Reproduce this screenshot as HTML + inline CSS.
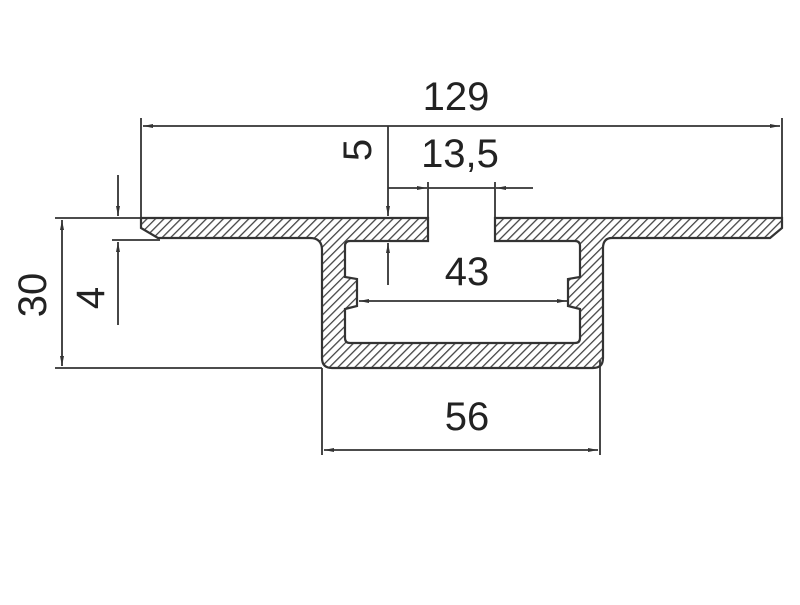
<!DOCTYPE html>
<html><head><style>html,body{margin:0;padding:0;background:#fff}</style></head>
<body>
<svg width="800" height="600" viewBox="0 0 800 600" xmlns="http://www.w3.org/2000/svg" font-family="Liberation Sans, sans-serif">
<defs>
<pattern id="h" patternUnits="userSpaceOnUse" width="6" height="6" patternTransform="rotate(45)">
<rect width="6" height="6" fill="#fff"/>
<line x1="0" y1="0" x2="0" y2="6" stroke="#444" stroke-width="2.6"/>
</pattern>
<marker id="a" markerWidth="10" markerHeight="6" refX="10" refY="3" orient="auto" markerUnits="userSpaceOnUse">
<path d="M0,1 L10,3 L0,5 Z" fill="#333"/>
</marker>
</defs>
<path d="M141,218 L428,218 L428,241 L350,241 Q345,241 345,246 L345,277 L357,279 L357,306 L345,309 L345,338 Q345,343 350,343 L575,343 Q580,343 580,338 L580,309 L568,306 L568,279 L580,277 L580,246 Q580,241 575,241 L495,241 L495,218 L782,218 L782,228 L770,238 L612,238 Q603,238 603,248 L603,358 Q603,368 593,368 L332,368 Q322,368 322,358 L322,250 Q322,238 310,238 L158,238 L141,228 Z" fill="url(#h)" stroke="#333" stroke-width="2.2"/>
<g stroke="#333" stroke-width="1.8" fill="none">
<line x1="141" y1="118" x2="141" y2="218"/>
<line x1="782" y1="118" x2="782" y2="218"/>
<line x1="400" y1="126" x2="143" y2="126" marker-end="url(#a)"/>
<line x1="400" y1="126" x2="780" y2="126" marker-end="url(#a)"/>
<line x1="388" y1="126" x2="388" y2="216" marker-end="url(#a)"/>
<line x1="388" y1="285" x2="388" y2="243" marker-end="url(#a)"/>
<line x1="428" y1="182" x2="428" y2="218"/>
<line x1="495" y1="182" x2="495" y2="218"/>
<line x1="388" y1="188" x2="427" y2="188" marker-end="url(#a)"/>
<line x1="428" y1="188" x2="495" y2="188"/>
<line x1="533" y1="188" x2="496" y2="188" marker-end="url(#a)"/>
<line x1="460" y1="301" x2="359" y2="301" marker-end="url(#a)"/>
<line x1="460" y1="301" x2="567" y2="301" marker-end="url(#a)"/>
<line x1="322" y1="368" x2="322" y2="455"/>
<line x1="600" y1="360" x2="600" y2="455"/>
<line x1="460" y1="450" x2="324" y2="450" marker-end="url(#a)"/>
<line x1="460" y1="450" x2="598" y2="450" marker-end="url(#a)"/>
<line x1="55" y1="218" x2="141" y2="218"/>
<line x1="55" y1="368" x2="322" y2="368"/>
<line x1="62" y1="290" x2="62" y2="220" marker-end="url(#a)"/>
<line x1="62" y1="290" x2="62" y2="366" marker-end="url(#a)"/>
<line x1="112" y1="240" x2="160" y2="240"/>
<line x1="118" y1="175" x2="118" y2="216" marker-end="url(#a)"/>
<line x1="118" y1="325" x2="118" y2="242" marker-end="url(#a)"/>
</g>
<g fill="#222" font-size="40" text-anchor="middle">
<text x="456" y="110">129</text>
<text x="460" y="167">13,5</text>
<text x="467" y="285">43</text>
<text x="467" y="430">56</text>
<text transform="translate(371,150) rotate(-90)">5</text>
<text transform="translate(46,295) rotate(-90)">30</text>
<text transform="translate(104,298) rotate(-90)">4</text>
</g>
</svg>
</body></html>
